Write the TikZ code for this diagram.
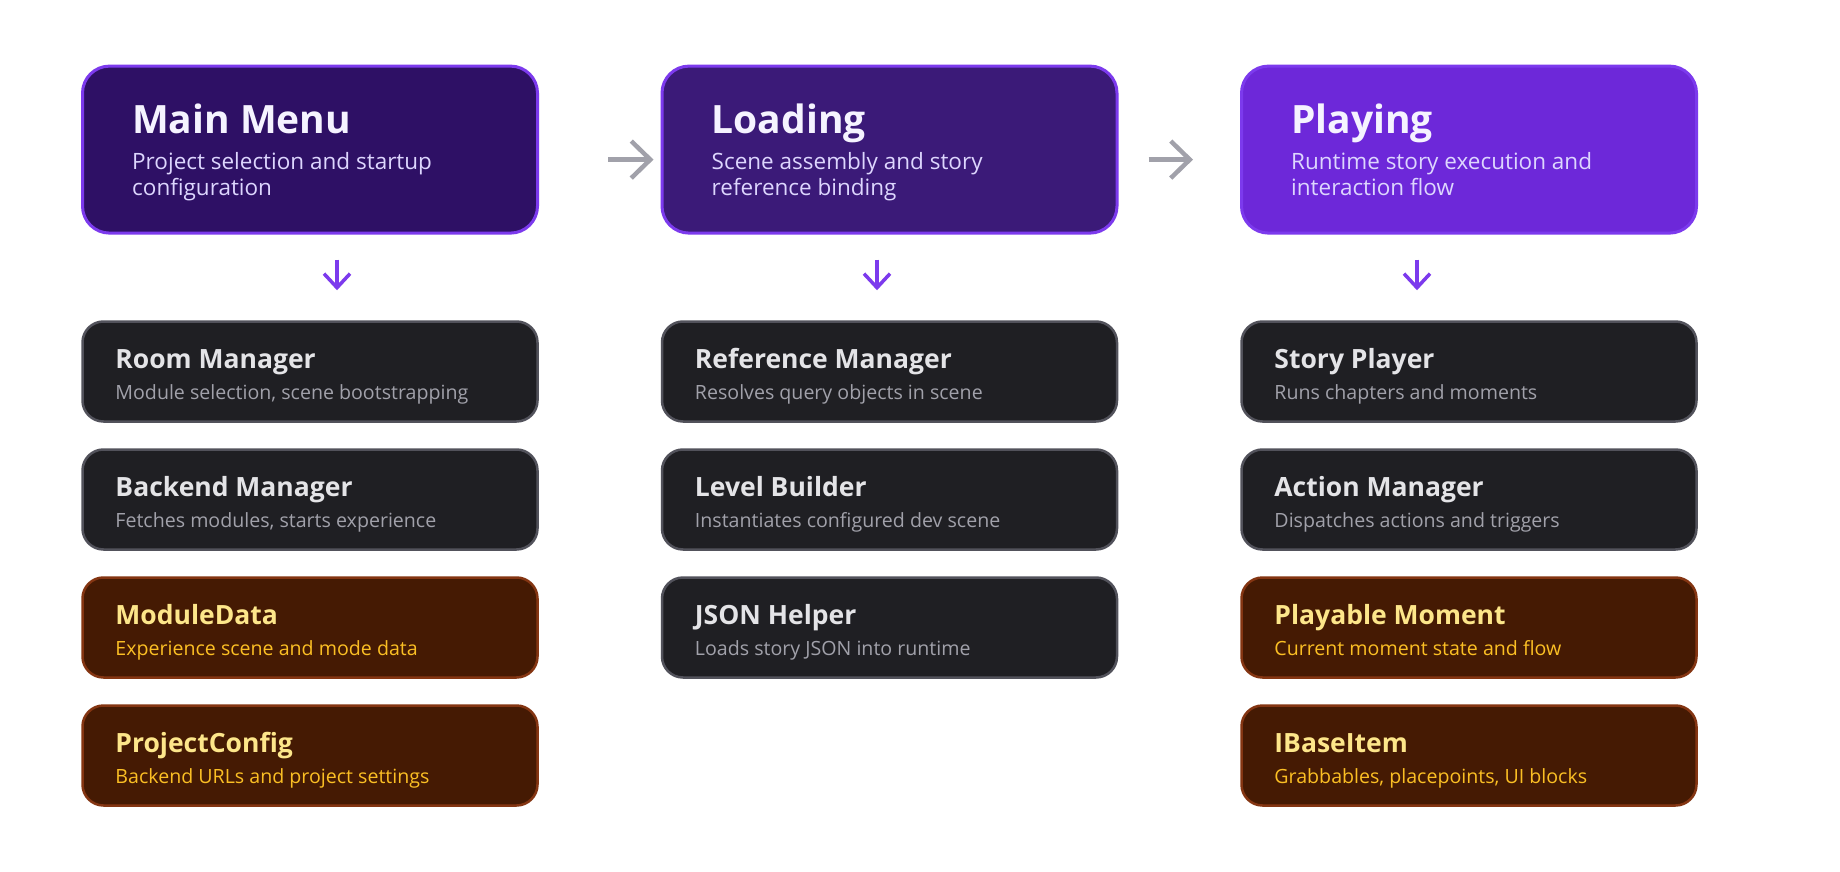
\documentclass[tikz,border=0pt]{standalone}
\usepackage{fontspec}
\setmainfont{Open Sans}
\usetikzlibrary{arrows.meta}

\definecolor{menufill}{HTML}{2E1065}
\definecolor{loadfill}{HTML}{3B1A78}
\definecolor{playfill}{HTML}{6D28D9}
\definecolor{stageedge}{HTML}{7C3AED}
\definecolor{stagetext}{HTML}{F5F3FF}
\definecolor{stagesubtext}{HTML}{DDD6FE}
\definecolor{compfill}{HTML}{1F1F23}
\definecolor{compedge}{HTML}{52525B}
\definecolor{comptext}{HTML}{E4E4E7}
\definecolor{compsubtext}{HTML}{A1A1AA}
\definecolor{datafill}{HTML}{451A03}
\definecolor{dataedge}{HTML}{843512}
\definecolor{datatext}{HTML}{FDE68A}
\definecolor{datasubtext}{HTML}{FBBF24}
\definecolor{flowgray}{HTML}{A1A1AA}

\tikzset{
  stagebox/.style={draw=stageedge, line width=3pt, rounded corners=27pt, minimum width=455pt, minimum height=167pt, inner sep=0pt},
  compbox/.style={draw=compedge, fill=compfill, line width=2.5pt, rounded corners=21pt, minimum width=455pt, minimum height=100pt, inner sep=0pt},
  databox/.style={compbox, draw=dataedge, fill=datafill},
  stagetitle/.style={anchor=base west, inner sep=0pt, text=stagetext, font=\fontsize{39}{47}\selectfont\bfseries},
  stagesub/.style={anchor=base west, inner sep=0pt, align=left, text=stagesubtext, font=\fontsize{22.5}{26}\selectfont},
  comptitle/.style={anchor=base west, inner sep=0pt, text=comptext, font=\fontsize{26.5}{32}\selectfont\bfseries},
  compsub/.style={anchor=base west, inner sep=0pt, text=compsubtext, font=\fontsize{19.6}{24}\selectfont},
  datatitle/.style={comptitle, text=datatext},
  datasub/.style={compsub, text=datasubtext},
  nextarrow/.style={draw=flowgray, line width=4.5pt, -{Straight Barb[length=19pt,width=37pt]}},
  downarrow/.style={draw=stageedge, line width=3.5pt, -{Straight Barb[length=14pt,width=26pt]}}
}

\begin{document}
\begin{tikzpicture}[x=1pt,y=-1pt]
\fill[white] (0,0) rectangle (1840,872);
\useasboundingbox (0,0) rectangle (1840,872);

% stages
\node[stagebox, fill=menufill] (menu) at (310,149.6) {};
\node[stagebox, fill=loadfill] (load) at (889.5,149.6) {};
\node[stagebox, fill=playfill] (play) at (1469,149.6) {};
\node[stagetitle] (menuT) at ([shift={(51,68.5)}]menu.north west) {Main Menu};
\node[stagesub] (menuS) at ([shift={(51,131)}]menu.north west) {Project selection and startup\\configuration};
\node[stagetitle] (loadT) at ([shift={(51,68.5)}]load.north west) {Loading};
\node[stagesub] (loadS) at ([shift={(51,131)}]load.north west) {Scene assembly and story\\reference binding};
\node[stagetitle] (playT) at ([shift={(51,68.5)}]play.north west) {Playing};
\node[stagesub] (playS) at ([shift={(51,131)}]play.north west) {Runtime story execution and\\interaction flow};

\draw[nextarrow] ([shift={(69,10)}]menu.east) -- ([shift={(-7,10)}]load.west);
\draw[nextarrow] ([shift={(30,10)}]load.east) -- ([shift={(-47,10)}]play.west);

% main menu column
\node[compbox] (room) at (310,371.5) {};
\node[compbox] (backend) at (310,499.5) {};
\node[databox] (module) at (310,627.5) {};
\node[databox] (config) at (310,755.5) {};
\node[comptitle] (roomT) at ([shift={(34,48.5)}]room.north west) {Room Manager};
\node[compsub] (roomS) at ([shift={(34,79)}]room.north west) {Module selection, scene bootstrapping};
\node[comptitle] (backendT) at ([shift={(34,48.5)}]backend.north west) {Backend Manager};
\node[compsub] (backendS) at ([shift={(34,79)}]backend.north west) {Fetches modules, starts experience};
\node[datatitle] (moduleT) at ([shift={(34,48.5)}]module.north west) {ModuleData};
\node[datasub] (moduleS) at ([shift={(34,79)}]module.north west) {Experience scene and mode data};
\node[datatitle] (configT) at ([shift={(34,48.5)}]config.north west) {ProjectConfig};
\node[datasub] (configS) at ([shift={(34,79)}]config.north west) {Backend URLs and project settings};

% loading column
\node[compbox] (refman) at (889.5,371.5) {};
\node[compbox] (builder) at (889.5,499.5) {};
\node[compbox] (json) at (889.5,627.5) {};
\node[comptitle] (refmanT) at ([shift={(34,48.5)}]refman.north west) {Reference Manager};
\node[compsub] (refmanS) at ([shift={(34,79)}]refman.north west) {Resolves query objects in scene};
\node[comptitle] (builderT) at ([shift={(34,48.5)}]builder.north west) {Level Builder};
\node[compsub] (builderS) at ([shift={(34,79)}]builder.north west) {Instantiates configured dev scene};
\node[comptitle] (jsonT) at ([shift={(34,48.5)}]json.north west) {JSON Helper};
\node[compsub] (jsonS) at ([shift={(34,79)}]json.north west) {Loads story JSON into runtime};

% playing column
\node[compbox] (player) at (1469,371.5) {};
\node[compbox] (action) at (1469,499.5) {};
\node[databox] (moment) at (1469,627.5) {};
\node[databox] (item) at (1469,755.5) {};
\node[comptitle] (playerT) at ([shift={(34,48.5)}]player.north west) {Story Player};
\node[compsub] (playerS) at ([shift={(34,79)}]player.north west) {Runs chapters and moments};
\node[comptitle] (actionT) at ([shift={(34,48.5)}]action.north west) {Action Manager};
\node[compsub] (actionS) at ([shift={(34,79)}]action.north west) {Dispatches actions and triggers};
\node[datatitle] (momentT) at ([shift={(34,48.5)}]moment.north west) {Playable Moment};
\node[datasub] (momentS) at ([shift={(34,79)}]moment.north west) {Current moment state and flow};
\node[datatitle] (itemT) at ([shift={(34,48.5)}]item.north west) {IBaseItem};
\node[datasub] (itemS) at ([shift={(34,79)}]item.north west) {Grabbables, placepoints, UI blocks};

\draw[downarrow] ([shift={(27,25)}]menu.south) -- ([shift={(27,-30)}]room.north);
\draw[downarrow] ([shift={(-12.5,25)}]load.south) -- ([shift={(-12.5,-30)}]refman.north);
\draw[downarrow] ([shift={(-52,25)}]play.south) -- ([shift={(-52,-30)}]player.north);
\end{tikzpicture}
\end{document}
